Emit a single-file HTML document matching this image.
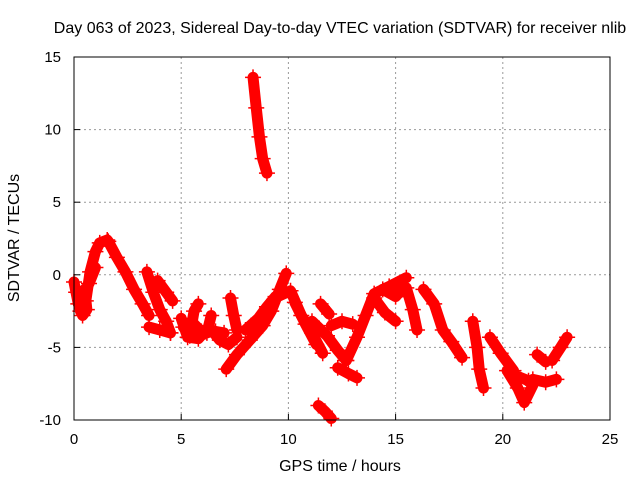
<!DOCTYPE html>
<html><head><meta charset="utf-8">
<style>
body{margin:0;background:#fff}
svg{display:block;font-family:"Liberation Sans",sans-serif}
</style></head><body>
<svg id="chart" width="640" height="480">
<text x="340" y="33" font-size="16" text-anchor="middle">Day 063 of 2023, Sidereal Day-to-day VTEC variation (SDTVAR) for receiver nlib</text>
<g id="grid"></g>
<g id="marks"></g>
<rect x="74" y="57" width="536" height="363" fill="none" stroke="#000" stroke-width="1"/>
<g id="axes"></g>
<text x="340" y="471" font-size="16" text-anchor="middle">GPS time / hours</text>
<text transform="translate(19,238) rotate(-90)" font-size="16" text-anchor="middle">SDTVAR / TECUs</text>
</svg>
<script>
const xTicks=[0,5,10,15,20,25];
const yTicks=[15,10,5,0,-5,-10];
// tracks of [hour, sdtvar]
const track1=[[0,-0.5],[0.2,-2],[0.4,-2.8],[0.6,-2.4],[0.5,-1]];
const track2=[[0.3,-2.5],[0.55,-1.8],[0.75,0.2],[1.0,1.6],[1.2,2.2],[1.55,2.4]];
const track3=[[1.6,2.3],[2.0,1.2],[2.4,0.2],[2.8,-1.0],[3.2,-2.0],[3.5,-2.8]];
const track4=[[3.4,0.2],[3.7,-1.2],[4.0,-2.4],[4.3,-3.2],[4.5,-4.0]];
const track5=[[3.9,-0.4],[4.3,-1.2],[4.6,-1.8]];
const track6=[[3.5,-3.6],[4.0,-3.8],[4.5,-4.0]];
const track7=[[5.0,-3.0],[5.3,-4.3],[5.8,-4.4],[6.3,-3.6],[6.8,-4.5],[7.2,-4.8],[7.6,-4.3]];
const track8=[[5.4,-4.2],[5.6,-2.5],[5.8,-2.0]];
const track9=[[6.2,-4.0],[6.4,-2.8]];
const track10=[[7.1,-6.5],[7.6,-5.5],[8.2,-4.5],[8.8,-3.5],[9.2,-2.5],[9.6,-1.0],[9.9,0.1]];
const track11=[[7.3,-1.6],[7.45,-2.8],[7.6,-3.8]];
const track12=[[8.35,13.6],[8.5,11.5],[8.65,9.5],[8.8,8.0],[9.0,7.0]];
const track13=[[9.5,-1.5],[10.1,-1.1],[10.6,-2.8],[11.1,-4.0],[11.6,-5.4]];
const track14=[[11.1,-3.2],[11.8,-4.2],[12.3,-5.2],[12.7,-5.9]];
const track15=[[12.7,-5.9],[13.2,-4.3],[13.6,-2.8],[14.0,-1.3],[14.7,-0.8],[15.5,-0.2]];
const track16=[[12.3,-6.4],[12.8,-6.8],[13.2,-7.1]];
const track17=[[11.5,-2.0],[11.9,-2.7]];
const track18=[[12.0,-3.5],[12.5,-3.2],[13.0,-3.4]];
const track19=[[14.0,-1.6],[14.5,-2.6],[15.0,-3.2]];
const track20=[[15.5,-0.9],[15.8,-2.4],[16.0,-3.8]];
const track21=[[16.3,-1.0],[16.8,-2.0],[17.2,-3.8],[17.6,-4.6],[18.1,-5.7]];
const track22=[[18.6,-3.2],[18.8,-5.0],[18.9,-6.5],[19.1,-7.8]];
const track23=[[19.4,-4.3],[19.9,-5.4],[20.5,-6.6]];
const track24=[[20.2,-6.6],[20.7,-7.8],[21.0,-8.8],[21.4,-7.6]];
const track25=[[21.4,-7.2],[22.0,-7.4],[22.5,-7.2]];
const track26=[[21.6,-5.5],[22.0,-6.0]];
const track27=[[22.3,-5.9],[22.7,-5.0],[23.0,-4.3]];
const track28=[[11.4,-9.0],[11.7,-9.4],[12.0,-9.9]];
const track29=[[0.1,-1.2],[0.35,-1.5],[0.7,-0.6],[1.0,0.5]];
const track30=[[5.1,-3.6],[5.6,-3.4],[6.0,-4.0],[6.6,-3.9],[7.0,-4.0]];
const track31=[[8.0,-3.8],[8.6,-3.0],[9.0,-2.2],[9.4,-1.5]];
const track32=[[10.3,-1.9],[10.8,-3.4],[11.3,-4.8]];
const track33=[[14.4,-1.0],[15.0,-1.5],[15.3,-1.0]];
const track34=[[20.7,-7.0],[21.2,-7.3]];
const tracks=[track1,track2,track3,track4,track5,track6,track7,track8,track9,track10,track11,track12,track13,track14,track15,track16,track17,track18,track19,track20,track21,track22,track23,track24,track25,track26,track27,track28,track29,track30,track31,track32,track33,track34];

const X0=74,X1=610,Y0=420,Y1=57;
const xs=h=>X0+(h-0)/25*(X1-X0);
const ys=v=>Y0-(v+10)/25*(Y0-Y1);
const NS="http://www.w3.org/2000/svg";
const grid=document.getElementById('grid'),axes=document.getElementById('axes'),marks=document.getElementById('marks');
xTicks.forEach(t=>{
  const x=xs(t);
  if(t>0&&t<25){const l=document.createElementNS(NS,'line');
  l.setAttribute('x1',x);l.setAttribute('x2',x);l.setAttribute('y1',Y1);l.setAttribute('y2',Y0);
  l.setAttribute('stroke','#999');l.setAttribute('stroke-dasharray','2,3');
  
  
  grid.appendChild(l);}
  const tk=document.createElementNS(NS,'line');
  tk.setAttribute('x1',x);tk.setAttribute('x2',x);tk.setAttribute('y1',Y0);tk.setAttribute('y2',Y0-6);tk.setAttribute('stroke','#000');
  
  
  axes.appendChild(tk);
  const tx=document.createElementNS(NS,'text');
  tx.setAttribute('x',x);tx.setAttribute('y',Y0+24);tx.setAttribute('font-size','15');tx.setAttribute('text-anchor','middle');
  tx.textContent=t;
  
  
  axes.appendChild(tx);
});
yTicks.forEach(t=>{
  const y=ys(t);
  if(t>-10&&t<15){const l=document.createElementNS(NS,'line');
  l.setAttribute('x1',X0);l.setAttribute('x2',X1);l.setAttribute('y1',y);l.setAttribute('y2',y);
  l.setAttribute('stroke','#999');l.setAttribute('stroke-dasharray','2,3');
  
  
  grid.appendChild(l);}
  const tk=document.createElementNS(NS,'line');
  tk.setAttribute('x1',X0);tk.setAttribute('x2',X0+6);tk.setAttribute('y1',y);tk.setAttribute('y2',y);tk.setAttribute('stroke','#000');
  
  
  axes.appendChild(tk);
  const tx=document.createElementNS(NS,'text');
  tx.setAttribute('x',X0-13);tx.setAttribute('y',y+5);tx.setAttribute('font-size','15');tx.setAttribute('text-anchor','end');
  tx.textContent=t;
  
  
  axes.appendChild(tx);
});
tracks.forEach(tr=>{
  const pl=document.createElementNS(NS,'polyline');
  pl.setAttribute('points',tr.map(p=>xs(p[0])+','+ys(p[1])).join(' '));
  pl.setAttribute('fill','none');pl.setAttribute('stroke','#f00');pl.setAttribute('stroke-width','11');
  pl.setAttribute('stroke-linejoin','round');pl.setAttribute('stroke-linecap','round');
  
  
  marks.appendChild(pl);
  tr.forEach(p=>{
    const x=xs(p[0]),y=ys(p[1]);
    const m=document.createElementNS(NS,'path');
    m.setAttribute('d',`M${x-8} ${y}H${x+8}M${x} ${y-8}V${y+8}`);
    m.setAttribute('stroke','#f00');m.setAttribute('stroke-width','1.5');
    
    
    marks.appendChild(m);
  });
});
</script>
</body></html>
